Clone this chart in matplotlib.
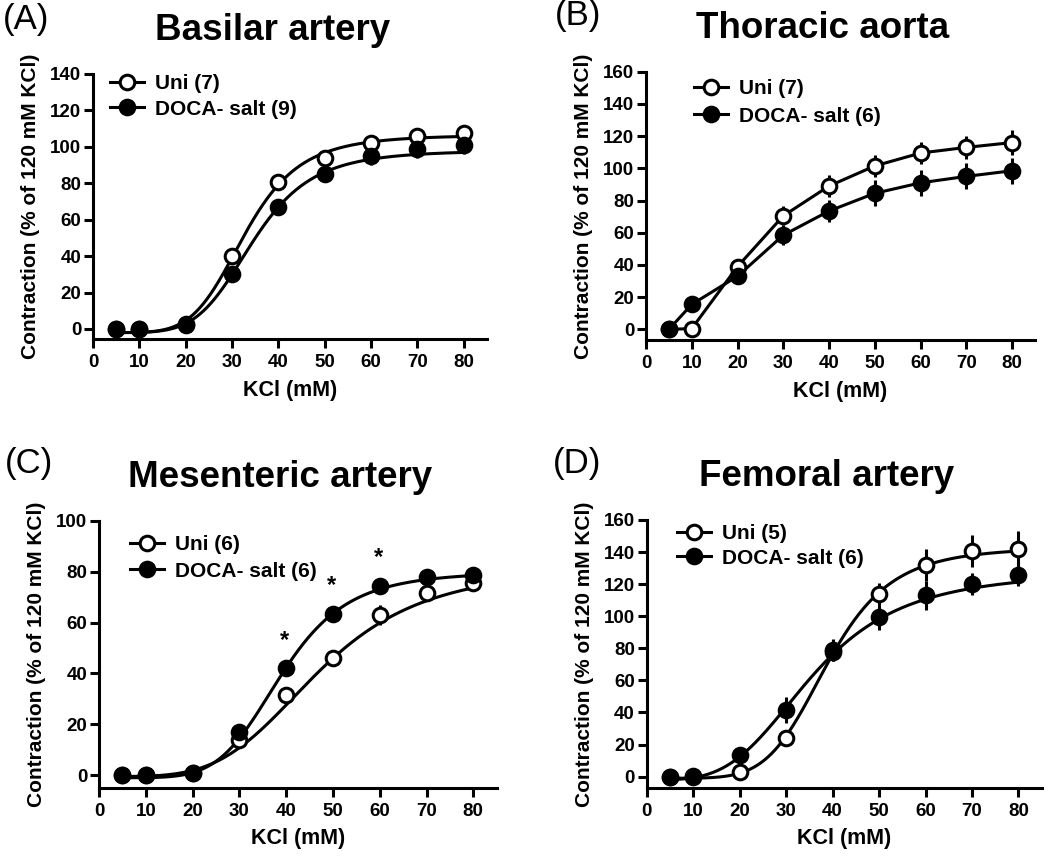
import numpy as np
import matplotlib
matplotlib.use("Agg")
import matplotlib.pyplot as plt
from matplotlib.lines import Line2D

plt.rcParams['font.family'] = ['Liberation Sans', 'DejaVu Sans']
plt.rcParams['font.weight'] = 'bold'

KCL = [5, 10, 20, 30, 40, 50, 60, 70, 80]

# (A) Basilar artery
basilarUni = [0, 0, 2, 40, 80.5, 94, 102, 106, 107.5]
basilarUniErr = [1, 1, 1, 3, 3, 3, 3, 4, 4]
basilarDoca = [0, 0, 2.5, 30, 67, 85, 95, 99, 101]
basilarDocaErr = [1, 1, 1, 3, 3, 3, 5, 5, 5]
basilarFit = {'uni': (-2, 106.5, 32.8, 5.5), 'doca': (-2, 98, 34.5, 5.4)}

# (B) Thoracic aorta
thoracicUni = [0, 0.5, 39, 70.5, 89, 101.5, 109.5, 113, 116]
thoracicUniErr = [1, 2, 4, 6, 7, 7, 7, 7, 8]
thoracicDoca = [0, 15.5, 33, 58.5, 73.5, 84.5, 91, 95, 98.5]
thoracicDocaErr = [1, 2, 4, 6, 7, 8, 8, 8, 8]

# (C) Mesenteric artery
mesentericUni = [0, 0, 1, 14, 31.5, 46, 63, 71.5, 75.5]
mesentericUniErr = [0.5, 0.5, 0.5, 2, 2, 3, 4, 2, 2]
mesentericDoca = [0, 0, 1, 17, 42, 63.5, 74.5, 78, 78.5]
mesentericDocaErr = [0.5, 0.5, 0.5, 2, 3, 3, 2, 1.5, 1.5]
mesentericFit = {'uni': (-0.5, 82, 47, 4.1), 'doca': (-1, 80, 39, 5.5)}
mesentericStars = [40, 50, 60]

# (D) Femoral artery
femoralUni = [0, 0, 3, 24, 78, 114, 132, 140.5, 142]
femoralUniErr = [1, 1, 2, 4, 6, 7, 10, 10, 11]
femoralDoca = [0, 0.5, 13.5, 41.5, 79, 99.5, 113, 120, 126]
femoralDocaErr = [1, 1, 3, 8, 7, 8, 9, 7, 7]
femoralFit = {'uni': (-1, 143, 39, 5.7), 'doca': (-2, 128, 35.7, 3.6)}

LW = 2.2
FIG_W, FIG_H = 1050, 856

fig = plt.figure(figsize=(FIG_W / 100, FIG_H / 100), dpi=100)


def axesAt(left, top, right, bottom):
    # pixel box -> figure fraction
    return fig.add_axes([left / FIG_W, 1 - bottom / FIG_H,
                         (right - left) / FIG_W, (bottom - top) / FIG_H])


def hill(x, params):
    bottom, top, ec50, n = params
    return bottom + (top - bottom) / (1 + (ec50 / x) ** n)


def drawPanel(ax, uni, uniErr, doca, docaErr, fit, ymin, ymax, ystep, title):
    x = np.array(KCL, dtype=float)
    if fit is None:
        ax.plot(x, uni, c='k', lw=LW, zorder=2)
        ax.plot(x, doca, c='k', lw=LW, zorder=2)
    else:
        xs = np.linspace(5, 80, 300)
        ax.plot(xs, hill(xs, fit['uni']), c='k', lw=LW, zorder=2)
        ax.plot(xs, hill(xs, fit['doca']), c='k', lw=LW, zorder=2)
    ax.errorbar(x, uni, yerr=uniErr, fmt='none', ecolor='k', elinewidth=LW, capsize=0, zorder=2)
    ax.errorbar(x, doca, yerr=docaErr, fmt='none', ecolor='k', elinewidth=LW, capsize=0, zorder=2)
    ax.plot(x, uni, 'o', ms=10.5, mfc='white', mec='k', mew=2.2, zorder=3, clip_on=False)
    ax.plot(x, doca, 'o', ms=10.5, mfc='k', mec='k', mew=2.2, zorder=4, clip_on=False)

    ax.set_xlim(0, 85)
    ax.set_ylim(ymin, ymax)
    ax.set_xticks(range(0, 81, 10))
    ax.set_yticks(range(0, ymax + 1, ystep))
    for side in ('top', 'right'):
        ax.spines[side].set_visible(False)
    for side in ('left', 'bottom'):
        ax.spines[side].set_linewidth(LW)
    ax.tick_params(direction='out', length=6.5, width=LW, labelsize=13.5)
    ax.tick_params(axis='x', pad=4.5)
    ax.tick_params(axis='y', pad=2)
    for lab in ax.get_xticklabels() + ax.get_yticklabels():
        lab.set_fontweight('bold')
    ax.set_xlabel('KCl (mM)', fontsize=15.5, fontweight='bold', labelpad=6)
    ax.set_ylabel('Contraction (% of 120 mM KCl)', fontsize=15, fontweight='bold', labelpad=7)
    ax.annotate(title, xy=(0.455, 1), xycoords='axes fraction', xytext=(0, 31),
                textcoords='offset points', ha='center', va='center',
                fontsize=26.5, fontweight='bold')

    handles = [Line2D([], [], c='k', lw=LW, marker='o', ms=10.5, mfc='white', mec='k', mew=2.2),
               Line2D([], [], c='k', lw=LW, marker='o', ms=10.5, mfc='k', mec='k', mew=2.2)]
    return handles


def addLegend(ax, handles, labels, leftPx, topPx, spacing):
    ax.legend(handles, labels, loc='upper left',
              bbox_to_anchor=(leftPx / FIG_W, 1 - topPx / FIG_H), bbox_transform=fig.transFigure,
              frameon=False, borderpad=0, handlelength=1.6, handletextpad=0.55,
              labelspacing=spacing, prop={'size': 15, 'weight': 'bold'})


axA = axesAt(93, 74, 487, 339)
h = drawPanel(axA, basilarUni, basilarUniErr, basilarDoca, basilarDocaErr, basilarFit,
              -5.5, 140, 20, 'Basilar artery')
addLegend(axA, h, ['Uni (7)', 'DOCA- salt (9)'], 100, 64, 0.3)

axB = axesAt(646, 71.7, 1035, 340)
h = drawPanel(axB, thoracicUni, thoracicUniErr, thoracicDoca, thoracicDocaErr, None,
              -6.6, 160, 20, 'Thoracic aorta')
addLegend(axB, h, ['Uni (7)', 'DOCA- salt (6)'], 684, 69, 0.4)

axC = axesAt(99, 520.7, 496.7, 787.7)
h = drawPanel(axC, mesentericUni, mesentericUniErr, mesentericDoca, mesentericDocaErr, mesentericFit,
              -4.9, 100, 20, 'Mesenteric artery')
addLegend(axC, h, ['Uni (6)', 'DOCA- salt (6)'], 120, 525, 0.35)
for xs in mesentericStars:
    ys = mesentericDoca[KCL.index(xs)]
    axC.annotate('*', xy=(xs, ys), xytext=(-1, 12), textcoords='offset points',
                 ha='center', va='bottom', fontsize=17, fontweight='bold')

axD = axesAt(646.7, 520, 1041.7, 787.7)
h = drawPanel(axD, femoralUni, femoralUniErr, femoralDoca, femoralDocaErr, femoralFit,
              -6.9, 160, 20, 'Femoral artery')
addLegend(axD, h, ['Uni (5)', 'DOCA- salt (6)'], 667, 514, 0.25)

for letter, px, py in [('(A)', 3, 20), ('(B)', 555, 15), ('(C)', 5, 463), ('(D)', 553, 463)]:
    fig.text(px / FIG_W, 1 - py / FIG_H, letter, ha='left', va='center',
             fontsize=25, fontweight='normal')

fig.savefig('out.png', dpi=100)
